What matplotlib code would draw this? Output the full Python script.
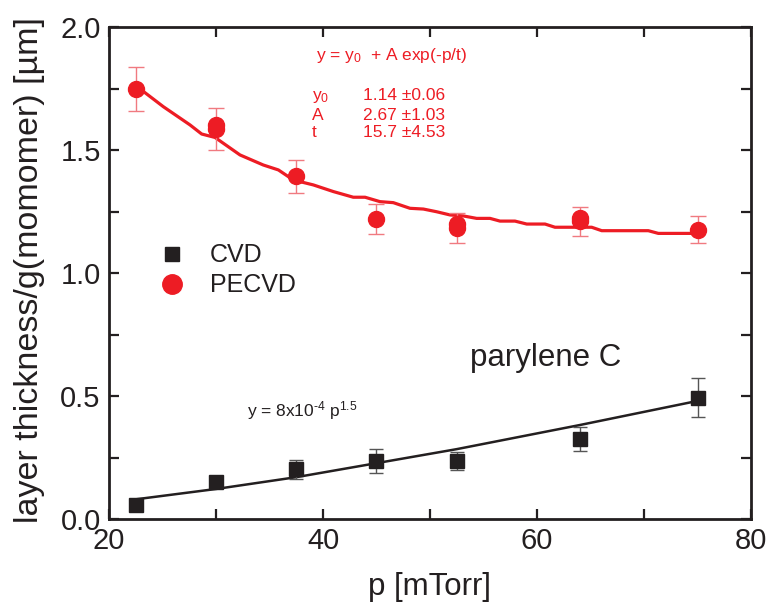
import matplotlib
matplotlib.use("Agg")
import matplotlib.pyplot as plt
from matplotlib.ticker import MultipleLocator, FormatStrFormatter

plt.rcParams['font.family'] = ['Liberation Sans', 'DejaVu Sans']
plt.rcParams['mathtext.fontset'] = 'custom'
plt.rcParams['mathtext.rm'] = 'Liberation Sans'
plt.rcParams['mathtext.it'] = 'Liberation Sans'
plt.rcParams['mathtext.default'] = 'regular'

# CVD data
cvd_p = [22.5, 30, 37.5, 45, 52.5, 64, 75]
cvd_y = [0.057, 0.152, 0.202, 0.237, 0.237, 0.324, 0.493]
cvd_err = [0.01, 0.023, 0.038, 0.049, 0.036, 0.048, 0.079]

# CVD fit line
cvd_fit_p = [22.5, 30, 37.5, 45, 52.5, 64, 75]
cvd_fit_y = [0.08, 0.122, 0.17, 0.227, 0.284, 0.382, 0.48]

# PECVD data
pe_p = [22.5, 30, 30, 37.5, 45, 52.5, 52.5, 64, 64, 75]
pe_y = [1.747, 1.585, 1.6, 1.394, 1.22, 1.182, 1.198, 1.21, 1.225, 1.175]
pe_err = [0.09, 0.087, 0.0, 0.067, 0.06, 0.06, 0.0, 0.06, 0.0, 0.055]

# PECVD fit line
pe_fit_p = [22.43, 25.08, 27.57, 28.66, 29.91, 32.24, 34.42, 35.83, 37.23,
            39.10, 40.97, 42.83, 43.93, 45.33, 46.57, 48.13, 49.38, 50.62,
            51.87, 53.11, 54.36, 55.61, 56.54, 57.94, 59.04, 60.75, 61.68,
            65.11, 66.05, 70.40, 71.34, 75.0]
pe_fit_y = [1.764, 1.676, 1.602, 1.565, 1.551, 1.480, 1.439, 1.419, 1.378,
            1.358, 1.331, 1.308, 1.308, 1.290, 1.286, 1.263, 1.260, 1.249,
            1.236, 1.232, 1.222, 1.222, 1.211, 1.211, 1.199, 1.199, 1.186,
            1.186, 1.172, 1.172, 1.161, 1.161]

legend_labels = ['CVD', 'PECVD']

RED = '#ED1C24'
ERR_RED = '#F07A80'
BLACK = '#231F20'

fig = plt.figure(figsize=(7.69, 6.12), dpi=100)
ax = fig.add_axes([109/769, 1 - 519/612, 642/769, 492/612])

# fits
ax.plot(pe_fit_p, pe_fit_y, color=RED, lw=2.3, zorder=2)
ax.plot(cvd_fit_p, cvd_fit_y, color=BLACK, lw=1.8, zorder=2)

# error bars
ax.errorbar(pe_p, pe_y, yerr=pe_err, fmt='none', ecolor=ERR_RED, elinewidth=1.0,
            capsize=6, capthick=1.0, zorder=3)
ax.errorbar(cvd_p, cvd_y, yerr=cvd_err, fmt='none', ecolor='#555555', elinewidth=1.0,
            capsize=5, capthick=1.0, zorder=3)

# markers
ax.plot(pe_p, pe_y, 'o', color=RED, ms=11.5, mec=RED, ls='none', zorder=4)
ax.plot(cvd_p, cvd_y, 's', color=BLACK, ms=9.5, mec=BLACK, ls='none', zorder=4)

ax.set_xlim(20, 80)
ax.set_ylim(0, 2.0)
ax.xaxis.set_major_locator(MultipleLocator(20))
ax.xaxis.set_minor_locator(MultipleLocator(10))
ax.yaxis.set_major_locator(MultipleLocator(0.5))
ax.yaxis.set_minor_locator(MultipleLocator(0.25))
ax.yaxis.set_major_formatter(FormatStrFormatter('%.1f'))
ax.tick_params(which='both', direction='in', top=True, right=True,
               length=7, width=1.6, color=BLACK, labelsize=21, labelcolor=BLACK, pad=6)
for s in ax.spines.values():
    s.set_linewidth(2.0)
    s.set_color(BLACK)

ax.set_xlabel('p [mTorr]', fontsize=22.5, color=BLACK)
ax.xaxis.set_label_coords(0.5, -0.108)
ax.set_ylabel('layer thickness/g(momomer) [µm]', fontsize=24.5, color=BLACK)
ax.yaxis.set_label_coords(-0.10, 0.506)

# legend (manual, figure coordinates)
ft = fig.transFigure
fig.lines.append(matplotlib.lines.Line2D([172/769], [1 - 254/612], marker='s', color=BLACK,
                                         ms=9.5, ls='none', transform=ft, figure=fig))
fig.lines.append(matplotlib.lines.Line2D([172/769], [1 - 284/612], marker='o', color=RED,
                                         ms=14, ls='none', transform=ft, figure=fig))
fig.text(210/769, 1 - 262/612, legend_labels[0], color=BLACK, fontsize=18, va='baseline')
fig.text(210/769, 1 - 292/612, legend_labels[1], color=BLACK, fontsize=18, va='baseline')

# annotations
fs = 12.5
fig.text(316/769, 1 - 60/612, r'y = y$_0$  + A exp(-p/t)', color=RED, fontsize=fs, va='baseline')
fig.text(312/769, 1 - 100/612, r'y$_0$', color=RED, fontsize=fs, va='baseline')
fig.text(312/769, 1 - 120/612, 'A', color=RED, fontsize=fs, va='baseline')
fig.text(312/769, 1 - 137/612, 't', color=RED, fontsize=fs, va='baseline')
fig.text(363/769, 1 - 100/612, '1.14 ±0.06', color=RED, fontsize=fs, va='baseline')
fig.text(363/769, 1 - 120/612, '2.67 ±1.03', color=RED, fontsize=fs, va='baseline')
fig.text(363/769, 1 - 137/612, '15.7 ±4.53', color=RED, fontsize=fs, va='baseline')

fig.text(247/769, 1 - 416/612, r'y = 8x10$^{\text{-}4}$ p$^{1.5}$', color=BLACK,
         fontsize=12.5, va='baseline')
fig.text(470/769, 1 - 366/612, 'parylene C', color=BLACK, fontsize=22.5, va='baseline')

fig.savefig('out.png', dpi=100)
